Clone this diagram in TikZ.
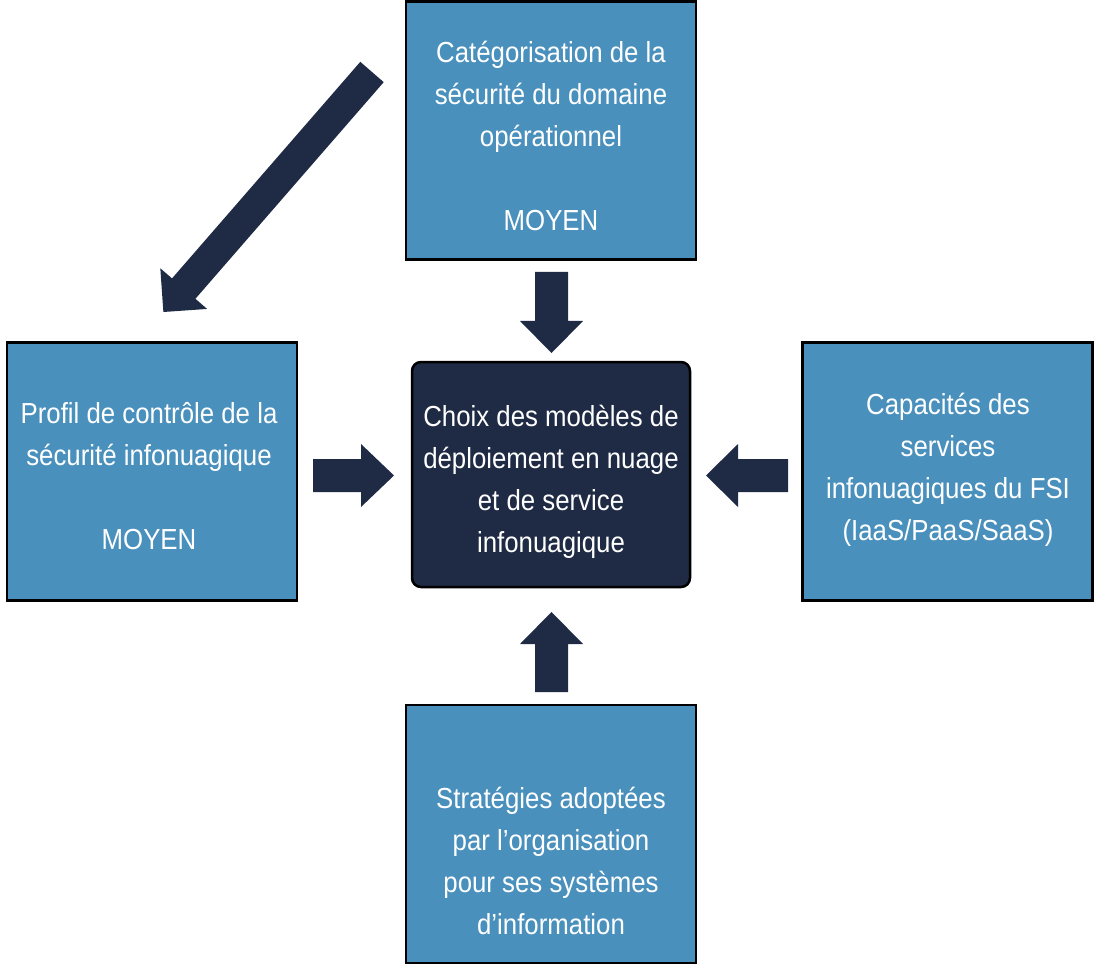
\documentclass[tikz,border=0pt]{standalone}
\usepackage{fontspec}
\setmainfont{Liberation Sans}[FakeStretch=0.89]
\definecolor{boxblue}{HTML}{4A90BD}
\definecolor{navy}{HTML}{1F2A44}
\tikzset{
  bluebox/.style={draw=black, line width=2.5pt, fill=boxblue, inner sep=0pt, minimum width=290pt, minimum height=258pt},
  centerbox/.style={draw=black, line width=2.5pt, fill=navy, rounded corners=9pt, inner sep=0pt, minimum width=278pt, minimum height=225pt},
  boxtext/.style={text=white, align=center, font=\fontsize{29}{42}\selectfont},
  arrowfill/.style={fill=navy},
}
% block arrow: tail x, tail y, angle, length, shaft half width, head half width, head length
\newcommand\blockarrow[7]{%
  \fill[arrowfill, shift={(#1,#2)}, rotate=#3]
    (0,-#5) -- (#4-#7,-#5) -- (#4-#7,-#6) -- (#4,0) -- (#4-#7,#6) -- (#4-#7,#5) -- (0,#5) -- cycle;}
\begin{document}
\begin{tikzpicture}[x=1pt,y=-1pt]
\useasboundingbox (0,0) rectangle (1094,965);
% boxes
\node[bluebox] (top) at (551,130.5) {};
\node[bluebox] (left) at (152,471.5) {};
\node[bluebox] (right) at (947.5,471.5) {};
\node[bluebox] (bottom) at (551,834) {};
\node[centerbox] (center) at (551,474.5) {};
% texts
\node[boxtext] (ttop) at (551,136) {Catégorisation de la\\sécurité du domaine\\opérationnel\\[42pt]MOYEN};
\node[boxtext] (tleft) at (149,476) {Profil de contrôle de la\\sécurité infonuagique\\[42pt]MOYEN};
\node[boxtext] (tcenter) at (551,482) {Choix des modèles de\\déploiement en nuage\\et de service\\infonuagique};
\node[boxtext] (tright) at (948,470) {Capacités des\\services\\infonuagiques du FSI\\(IaaS/PaaS/SaaS)};
\node[boxtext] (tbottom) at (551,861) {Stratégies adoptées\\par l’organisation\\pour ses systèmes\\d’information};
% arrows
\blockarrow{551.5}{272}{270}{81}{16.5}{31.5}{32}
\blockarrow{551.5}{692}{90}{80}{16.5}{31.5}{32}
\blockarrow{313}{475.5}{0}{81}{16.5}{31.5}{33}
\blockarrow{788}{475.5}{180}{82}{16.5}{31.5}{32}
\blockarrow{372}{72}{229}{318}{15.5}{31}{31}
\end{tikzpicture}
\end{document}
